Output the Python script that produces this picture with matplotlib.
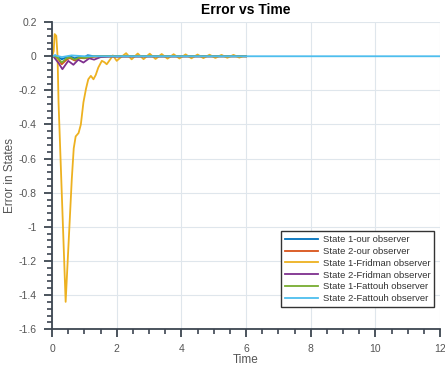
import matplotlib
matplotlib.use("Agg")
import matplotlib.pyplot as plt
from matplotlib.ticker import MultipleLocator

plt.rcParams['font.family'] = ['Liberation Sans', 'DejaVu Sans']

labels = ["State 1-our observer", "State 2-our observer", "State 1-Fridman observer",
          "State 2-Fridman observer", "State 1-Fattouh observer", "State 2-Fattouh observer"]
colors = ["#0072BD", "#D95319", "#EDB120", "#7E2F8E", "#77AC30", "#4DBEEE"]

t_s1_our = [0, 0.1, 0.2, 0.3, 0.45, 0.55, 0.7, 0.85, 1.0, 1.1, 1.3, 6]
e_s1_our = [0, 0.005, -0.005, -0.018, -0.005, 0.0, -0.012, -0.003, -0.006, 0.006, 0, 0]

t_s2_our = [0, 0.1, 0.2, 0.3, 0.45, 0.55, 0.7, 0.85, 1.0, 1.3, 1.6, 6]
e_s2_our = [0, 0.0, -0.02, -0.047, -0.02, -0.01, -0.025, -0.01, -0.012, -0.003, 0, 0]

t_s1_frid = [0, 0.05, 0.08, 0.13, 0.17, 0.2, 0.42, 0.47, 0.61, 0.67, 0.73, 0.82, 0.89,
             0.97, 1.05, 1.12, 1.2, 1.28, 1.35, 1.43, 1.54, 1.62, 1.69, 1.8, 1.88, 2.0,
             2.1, 2.29, 2.46, 2.65, 2.83, 3.02, 3.2, 3.39, 3.57, 3.76, 3.94, 4.13, 4.31,
             4.5, 4.68, 4.87, 5.05, 5.24, 5.42, 5.61, 5.79, 5.9, 6.0]
e_s1_frid = [0, 0.03, 0.13, 0.12, 0.0, -0.27, -1.44, -1.25, -0.72, -0.54, -0.47, -0.45, -0.40,
             -0.27, -0.19, -0.135, -0.115, -0.135, -0.11, -0.066, -0.027, -0.035, -0.047, -0.018, 0.005, -0.027,
             -0.01, 0.018, -0.018, 0.016, -0.017, 0.015, -0.016, 0.013, -0.014, 0.012, -0.013, 0.011, -0.012,
             0.010, -0.011, 0.009, -0.010, 0.008, -0.009, 0.008, -0.008, 0.0, 0.0]

t_s2_frid = [0, 0.05, 0.2, 0.32, 0.5, 0.66, 0.81, 0.97, 1.15, 1.3, 1.5, 1.8, 6]
e_s2_frid = [0, -0.003, -0.04, -0.076, -0.027, -0.05, -0.02, -0.037, -0.012, -0.02, -0.005, -0.002, 0]

t_s1_fat = [0, 0.1, 0.2, 0.3, 0.45, 0.55, 0.7, 0.85, 1.0, 1.3, 6]
e_s1_fat = [0, 0, -0.015, -0.037, -0.012, -0.006, -0.02, -0.007, -0.01, 0, 0]

t_s2_fat = [0, 0.1, 0.3, 0.6, 1.0, 12]
e_s2_fat = [0, 0.005, -0.005, 0.005, 0, 0]

series = [(t_s1_our, e_s1_our), (t_s2_our, e_s2_our), (t_s1_frid, e_s1_frid),
          (t_s2_frid, e_s2_frid), (t_s1_fat, e_s1_fat), (t_s2_fat, e_s2_fat)]

fig = plt.figure(figsize=(4.45, 3.69), dpi=100)
ax = fig.add_axes([0.117, 0.108, 0.872, 0.832])

for (t, e), c, lab in zip(series, colors, labels):
    ax.plot(t, e, color=c, lw=1.3, label=lab)

ax.set_xlim(0, 12)
ax.set_ylim(-1.6, 0.2)
ax.xaxis.set_major_locator(MultipleLocator(2))
ax.xaxis.set_minor_locator(MultipleLocator(0.5))
ax.yaxis.set_minor_locator(MultipleLocator(0.04))
ax.set_yticks([0.2, 0, -0.2, -0.4, -0.6, -0.8, -1, -1.2, -1.4, -1.6])
ax.set_yticklabels(["0.2", "0", "-0.2", "-0.4", "-0.6", "-0.8", "-1", "-1.2", "-1.4", "-1.6"])

axcol = "#3d4651"
for s in ["top", "right"]:
    ax.spines[s].set_visible(False)
for s in ["left", "bottom"]:
    ax.spines[s].set_color(axcol)
    ax.spines[s].set_linewidth(1.3)
ax.tick_params(which="major", direction="out", length=6, width=1.3, color=axcol,
               labelsize=7.5, labelcolor="#555555")
ax.tick_params(axis="y", which="major", pad=5)
ax.tick_params(axis="x", which="major", pad=5)
ax.tick_params(which="minor", direction="out", length=3.5, width=1.2, color=axcol)
ax.grid(True, which="major", color="#dfe6ec", lw=0.8)
ax.set_axisbelow(True)

ax.set_title("Error vs Time", fontsize=10, fontweight="bold", pad=6)
ax.set_xlabel("Time", fontsize=8.5, color="#555555", labelpad=0)
ax.set_ylabel("Error in States", fontsize=8.5, color="#555555", labelpad=2)

leg = ax.legend(loc="lower right", bbox_to_anchor=(0.985, 0.072), borderaxespad=0,
                fontsize=6.8, handlelength=3.5, handletextpad=0.5, labelspacing=0.3,
                fancybox=False, framealpha=1, borderpad=0.4)
leg.get_frame().set_edgecolor("#333333")
leg.get_frame().set_linewidth(1.0)
for txt in leg.get_texts():
    txt.set_color("#333333")

fig.savefig("out.png", dpi=100)
